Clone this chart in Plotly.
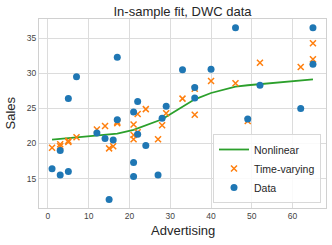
import plotly.graph_objects as go

# Observed data
data_x = [1, 3, 3, 5, 5, 7, 12, 14, 15, 16, 17, 17, 21, 21, 21, 22, 22, 24, 27, 28,
          29, 33, 36, 36, 40, 46, 49, 52, 62, 65, 65]
data_y = [16.4, 19.0, 15.5, 16.0, 26.4, 29.5, 21.5, 20.7, 12.0, 20.5, 32.3, 23.4, 24.5,
          17.3, 15.3, 26.0, 21.3, 19.7, 15.5, 23.6, 25.3, 30.5, 28.0, 26.5, 30.6, 36.5,
          23.5, 28.3, 25.0, 36.5, 31.3]

# Time-varying model fit
tv_x = [1, 3, 3, 5, 5, 7, 12, 14, 15, 16, 17, 17, 21, 21, 21, 22, 22, 24, 27, 28,
        29, 33, 36, 36, 40, 46, 49, 52, 62, 65, 65]
tv_y = [19.4, 19.9, 19.6, 20.4, 20.2, 20.9, 22.0, 22.5, 19.3, 19.6, 22.9, 23.1, 22.7,
        21.2, 20.6, 24.2, 21.6, 24.9, 20.6, 22.6, 24.3, 26.4, 24.1, 27.8, 28.9, 28.6,
        23.2, 31.5, 30.9, 34.3, 32.0]

# Nonlinear model fit
nl_x = [1, 3, 5, 7, 12, 14, 15, 16, 17, 21, 22, 24, 27, 28, 29, 33, 36, 40, 46, 49,
        52, 62, 65]
nl_y = [20.55, 20.65, 20.75, 20.85, 21.05, 21.15, 21.2, 21.3, 21.4, 21.95, 22.15, 22.55,
        23.2, 23.45, 23.8, 25.2, 26.3, 27.2, 28.1, 28.3, 28.45, 28.95, 29.15]

x_ticks = [0, 10, 20, 30, 40, 50, 60]
y_ticks = [15, 20, 25, 30, 35]

FONT = "Liberation Sans, Arial, sans-serif"
GRID = "#dcdcdc"
W, H = 332, 245
L, R, T, B = 39, 6, 19, 37
PW, PH = W - L - R, H - T - B

fig = go.Figure()
fig.add_trace(go.Scatter(x=nl_x, y=nl_y, mode="lines", name="Nonlinear",
                         line=dict(color="#2ca02c", width=1.8)))
fig.add_trace(go.Scatter(x=tv_x, y=tv_y, mode="markers", name="Time-varying",
                         marker=dict(symbol="x-thin", size=6, color="#ff7f0e",
                                     line=dict(color="#ff7f0e", width=1.5))))
fig.add_trace(go.Scatter(x=data_x, y=data_y, mode="markers", name="Data",
                         marker=dict(symbol="circle", size=7, color="#1f77b4",
                                     line=dict(width=0))))

fig.update_layout(
    width=W, height=H,
    margin=dict(l=L, r=R, t=T, b=B),
    paper_bgcolor="white", plot_bgcolor="white",
    font=dict(family=FONT, color="#262626"),
    title=dict(text="In-sample fit, DWC data", x=0.5, xref="paper",
               y=1 - 11.7 / H, yref="container", yanchor="middle",
               xanchor="center", font=dict(size=13, color="#262626")),
    legend=dict(x=(321 - L) / PW, y=(H - B - 203) / PH, xanchor="right", yanchor="bottom",
                bordercolor="#d8d8d8", borderwidth=1, bgcolor="rgba(255,255,255,0.85)",
                font=dict(size=10.5, color="#262626"), tracegroupgap=0,
                itemwidth=30),
    showlegend=True,
    annotations=[
        dict(text="Advertising", xref="paper", yref="paper", x=0.5,
             y=-(230.7 - (H - B)) / PH, xanchor="center", yanchor="middle",
             showarrow=False, font=dict(size=13, color="#262626")),
        dict(text="Sales", xref="paper", yref="paper", x=(10 - L) / PW, y=0.5,
             xanchor="center", yanchor="middle", textangle=-90,
             showarrow=False, font=dict(size=13, color="#262626")),
    ],
)
fig.update_xaxes(range=[-2.2, 68.2], tickvals=x_ticks, showgrid=True, gridcolor=GRID,
                 gridwidth=1, zeroline=False, showline=True, mirror=True,
                 linecolor="#d0d0d0", linewidth=1, ticks="", ticklen=0,
                 automargin=False,
                 tickfont=dict(size=8.5, color="#444444"))
fig.update_yaxes(range=[10.8, 37.75], tickvals=y_ticks, showgrid=True, gridcolor=GRID,
                 gridwidth=1, zeroline=False, showline=True, mirror=True,
                 linecolor="#d0d0d0", linewidth=1, ticks="", ticklen=0,
                 automargin=False,
                 tickfont=dict(size=8.5, color="#444444"))

fig.write_html("out.html", config={"displayModeBar": False},
               post_script="document.body.style.margin='0';document.body.style.overflow='hidden';")
